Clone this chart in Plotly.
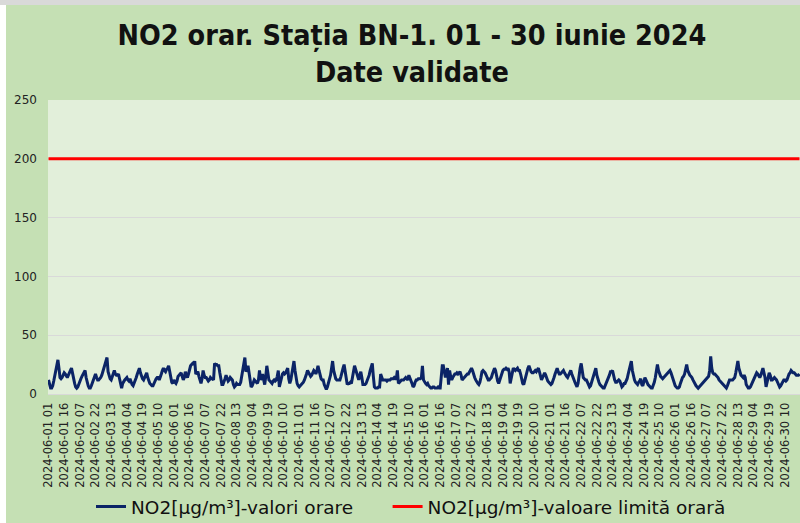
import plotly.graph_objects as go

# ---- data -------------------------------------------------------------
days = [f"2024-06-{d:02d}" for d in range(1, 31)]
hours = [f"{h:02d}" for h in range(1, 25)]
categories = [f"{d} {h}" for d in days for h in hours]

# hourly NO2 values (µg/m³), one row per day
no2_hourly = [
    12, 8, 5, 5, 7, 11, 16, 22, 26, 29, 22, 14, 13, 14, 16, 18, 17, 15, 14, 16, 19, 20, 22, 17,
    12, 9, 6, 5, 6, 9, 12, 13, 15, 17, 19, 20, 14, 10, 7, 5, 5, 7, 10, 13, 15, 17, 14, 12,
    12, 13, 14, 16, 19, 24, 27, 29, 31, 19, 15, 13, 12, 15, 18, 20, 17, 16, 16, 17, 13, 8, 5, 9,
    11, 12, 13, 14, 12, 11, 13, 10, 8, 7, 9, 12, 14, 17, 20, 22, 18, 15, 13, 12, 14, 16, 18, 14,
    11, 9, 8, 7, 7, 9, 12, 13, 14, 14, 12, 14, 17, 20, 22, 20, 19, 21, 22, 24, 18, 12, 10, 9,
    12, 10, 9, 11, 15, 16, 17, 18, 15, 12, 14, 19, 16, 14, 17, 21, 24, 25, 26, 25, 28, 17, 18, 19,
    15, 12, 9, 13, 20, 16, 14, 14, 12, 11, 12, 14, 13, 13, 12, 26, 25, 25, 24, 24, 18, 12, 8, 8,
    10, 13, 16, 14, 11, 12, 14, 13, 12, 8, 6, 7, 9, 8, 8, 8, 10, 15, 20, 26, 31, 19, 21, 24,
    18, 10, 6, 7, 10, 12, 11, 10, 9, 12, 20, 12, 14, 17, 12, 8, 15, 24, 18, 12, 11, 10, 9, 11,
    12, 11, 12, 15, 20, 6, 10, 14, 17, 18, 17, 18, 20, 22, 13, 9, 12, 18, 24, 28, 20, 12, 9, 7,
    6, 7, 8, 9, 10, 12, 14, 17, 20, 18, 16, 15, 16, 18, 20, 19, 17, 20, 24, 20, 15, 13, 12, 12,
    8, 5, 4, 6, 9, 12, 16, 22, 28, 20, 15, 13, 12, 12, 12, 12, 15, 20, 22, 25, 18, 10, 8, 9,
    9, 10, 9, 14, 20, 24, 21, 18, 15, 12, 16, 19, 14, 8, 8, 8, 9, 11, 13, 16, 20, 24, 26, 15,
    6, 5, 5, 5, 6, 6, 17, 14, 12, 12, 12, 12, 11, 12, 12, 12, 13, 13, 13, 14, 13, 13, 20, 9,
    10, 11, 12, 12, 12, 13, 14, 13, 12, 16, 14, 12, 9, 6, 7, 10, 12, 12, 13, 13, 13, 14, 24, 12,
    10, 9, 8, 9, 7, 6, 5, 5, 6, 6, 5, 5, 5, 6, 5, 5, 12, 24, 24, 20, 14, 18, 22, 8,
    20, 15, 12, 14, 16, 17, 17, 18, 17, 18, 19, 16, 12, 13, 14, 15, 16, 17, 17, 19, 21, 22, 20, 16,
    14, 12, 10, 9, 8, 10, 14, 19, 20, 19, 18, 16, 14, 12, 12, 13, 14, 17, 19, 22, 20, 15, 11, 9,
    12, 16, 19, 20, 21, 21, 22, 21, 22, 19, 9, 14, 20, 22, 21, 20, 21, 22, 20, 20, 17, 12, 9, 8,
    12, 16, 20, 22, 24, 21, 19, 18, 18, 19, 20, 19, 21, 22, 19, 15, 12, 14, 16, 18, 16, 13, 11, 10,
    9, 8, 9, 11, 14, 17, 20, 22, 19, 17, 17, 18, 19, 20, 18, 16, 15, 14, 16, 18, 20, 17, 14, 12,
    10, 8, 6, 9, 17, 22, 26, 17, 14, 13, 12, 12, 10, 8, 6, 7, 10, 15, 18, 20, 22, 16, 12, 10,
    8, 7, 6, 5, 5, 7, 10, 12, 14, 16, 19, 19, 20, 15, 12, 10, 10, 11, 12, 11, 9, 6, 7, 9,
    9, 11, 13, 17, 20, 24, 28, 20, 14, 12, 10, 9, 8, 10, 11, 13, 8, 7, 10, 14, 12, 9, 8, 7,
    6, 5, 5, 7, 10, 14, 20, 25, 20, 17, 15, 14, 13, 14, 15, 16, 17, 18, 19, 20, 18, 15, 11, 8,
    7, 6, 5, 5, 6, 9, 12, 14, 15, 17, 21, 25, 20, 17, 16, 15, 14, 12, 10, 8, 7, 6, 5, 6,
    7, 8, 9, 10, 11, 12, 13, 14, 15, 20, 32, 22, 18, 17, 17, 16, 15, 14, 12, 11, 10, 9, 8, 7,
    6, 5, 7, 10, 12, 12, 12, 12, 13, 14, 18, 24, 28, 22, 18, 16, 15, 14, 16, 14, 8, 6, 5, 5,
    6, 8, 10, 12, 14, 16, 18, 17, 15, 14, 16, 19, 22, 18, 14, 6, 10, 15, 18, 16, 12, 12, 13, 14,
    13, 12, 10, 8, 6, 7, 9, 11, 12, 12, 11, 12, 15, 17, 18, 20, 19, 18, 18, 17, 16, 16, 16, 17,
]

limit_value = 200
limit_hourly = [limit_value] * len(categories)

tick_labels = categories[::15]

# ---- figure -----------------------------------------------------------
W, H = 800, 523
ML, MR, MT, MB = 48, 0, 100, 129
PW, PH = W - ML - MR, H - MT - MB


def px_x(x):
    return (x - ML) / PW


def px_y(y):
    return (H - MB - y) / PH


NBSP = "\u00a0"

fig = go.Figure()
fig.add_trace(go.Scatter(
    x=categories, y=no2_hourly, mode="lines",
    name="NO2[µg/m³]-valori orare" + NBSP * 5,
    line=dict(color="#0B2466", width=3),
))
fig.add_trace(go.Scatter(
    x=categories, y=limit_hourly, mode="lines",
    name="NO2[µg/m³]-valoare limită orară",
    line=dict(color="#FF0000", width=3),
))

fig.update_layout(
    width=W, height=H,
    margin=dict(l=ML, r=MR, t=MT, b=MB),
    paper_bgcolor="#C5E0B4",
    plot_bgcolor="#E2EFDA",
    title=dict(
        text="<b>NO2 orar. Stația BN-1. 01 - 30 iunie 2024<br>Date validate</b>",
        x=412 / W, xref="container", xanchor="center",
        y=1 - 45 / H, yref="container", yanchor="middle",
        font=dict(family="DejaVu Sans Condensed, DejaVu Sans, sans-serif",
                  size=28.5, color="#111111"),
    ),
    legend=dict(
        orientation="h", xref="container", x=411 / W, xanchor="center",
        yref="container", y=1 - 507 / H, yanchor="middle",
        font=dict(family="DejaVu Sans, sans-serif", size=18.5, color="#111111"),
        bgcolor="rgba(0,0,0,0)", itemwidth=30,
    ),
    showlegend=True,
    shapes=[
        dict(type="rect", xref="paper", yref="paper",
             x0=px_x(0), x1=px_x(W), y0=px_y(5), y1=px_y(-1),
             fillcolor="#D9D9D9", line=dict(width=0), layer="above"),
        dict(type="rect", xref="paper", yref="paper",
             x0=px_x(-1), x1=px_x(6), y0=px_y(H + 1), y1=px_y(5),
             fillcolor="#FFFFFF", line=dict(width=0), layer="above"),
    ],
)

fig.update_xaxes(
    type="category",
    tickmode="array", tickvals=tick_labels, ticktext=tick_labels,
    tickangle=-90,
    tickfont=dict(family="DejaVu Sans, sans-serif", size=11.5, color="#222222"),
    showgrid=False, showline=True, linecolor="#D9D9D9", linewidth=1,
    ticks="", ticklabelstandoff=3, range=[-0.5, len(categories) - 0.5],
)
fig.update_yaxes(
    range=[0, 250], dtick=50, tick0=0,
    tickfont=dict(family="DejaVu Sans, sans-serif", size=12, color="#222222"),
    showgrid=True, gridcolor="#D9D9D9", gridwidth=1,
    zeroline=False, showline=False, ticks="", ticklabelstandoff=10,
)

fig.write_html("out.html", config={"displayModeBar": False},
               post_script="document.body.style.margin='0';")
